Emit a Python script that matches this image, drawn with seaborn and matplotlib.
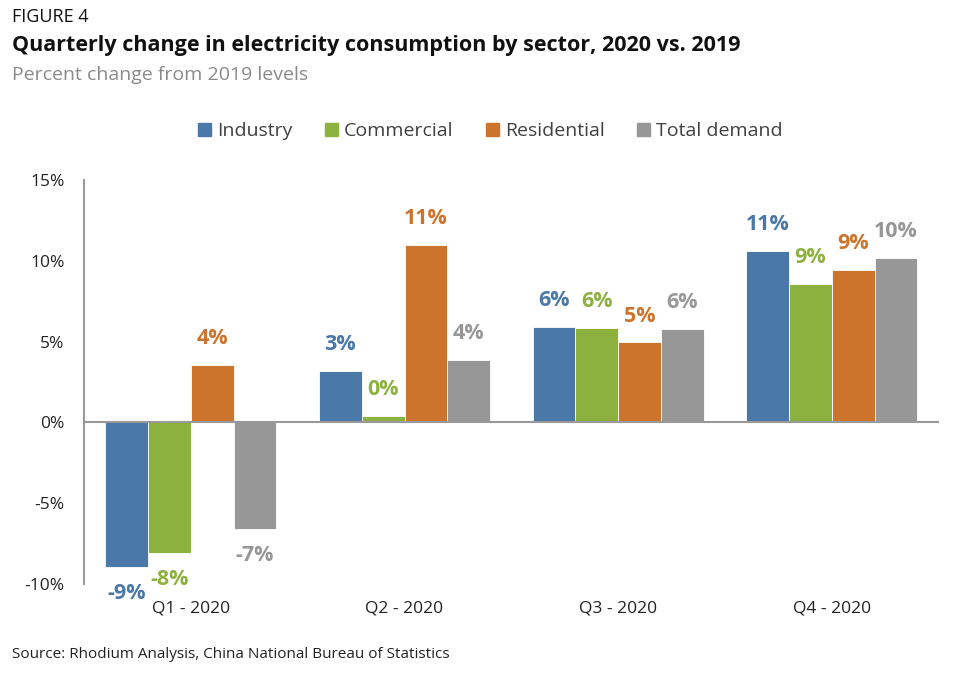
import numpy as np
import pandas as pd
import seaborn as sns
import matplotlib.pyplot as plt

quarters = ['Q1 - 2020', 'Q2 - 2020', 'Q3 - 2020', 'Q4 - 2020']
sectors = ['Industry', 'Commercial', 'Residential', 'Total demand']
industry = [-8.95, 3.2, 5.9, 10.6]
commercial = [-8.1, 0.4, 5.85, 8.55]
residential = [3.55, 11.0, 4.95, 9.45]
total_demand = [-6.6, 3.85, 5.8, 10.2]
colors = ['#4A78A8', '#8DB13E', '#CC742C', '#979797']

df = pd.DataFrame({
    'quarter': quarters * 4,
    'sector': np.repeat(sectors, 4),
    'value': industry + commercial + residential + total_demand,
})

sns.set_theme(style='white')
plt.rcParams['font.family'] = ['Open Sans', 'DejaVu Sans']

fig = plt.figure(figsize=(9.56, 6.8), dpi=100)
ax = fig.add_axes([0.0879, 0.1412, 0.894, 0.5941])

sns.barplot(data=df, x='quarter', y='value', hue='sector', palette=colors,
            width=0.8, saturation=1, edgecolor='white', linewidth=0.6,
            legend=False, ax=ax)

ax.set_ylim(-10, 15)
ax.set_xlim(-0.5, 3.5)
ax.set_yticks(range(-10, 16, 5))
ax.set_yticklabels([f'{t}%' for t in range(-10, 16, 5)], fontsize=12.5, color='#222222')
ax.tick_params(axis='y', length=0, pad=14)
ax.tick_params(axis='x', length=0, pad=12, labelsize=12.5, labelcolor='#222222')
ax.set_xlabel('')
ax.set_ylabel('')
for s in ['top', 'right', 'bottom']:
    ax.spines[s].set_visible(False)
ax.spines['left'].set_color('#999999')
ax.spines['left'].set_linewidth(1.5)
ax.axhline(0, color='#999999', lw=1.5, zorder=3)

# data labels
for cont, col in zip(ax.containers, colors):
    for bar in cont:
        h = bar.get_height()
        x = bar.get_x() + bar.get_width() / 2
        off = 19 if h >= 0 else -19
        ax.annotate(f'{round(h):.0f}%', (x, h), xytext=(0, off),
                    textcoords='offset points', ha='center', va='center',
                    fontsize=15.5, fontweight='bold', color=col)

# legend
handles = [plt.Rectangle((0, 0), 1, 1, color=c) for c in colors]
fig.legend(handles, sectors, loc='center', bbox_to_anchor=(0.513, 0.807),
           ncol=4, frameon=False, fontsize=14, handlelength=0.65,
           handleheight=0.65, handletextpad=0.3, columnspacing=1.7,
           labelcolor='#404040')

fig.text(0.0125, 0.975, 'FIGURE 4', fontsize=13, color='#111111', va='center')
fig.text(0.0125, 0.933, 'Quarterly change in electricity consumption by sector, 2020 vs. 2019',
         fontsize=15.5, fontweight='bold', color='#111111', va='center')
fig.text(0.0125, 0.889, 'Percent change from 2019 levels', fontsize=14,
         color='#8a8a8a', va='center')
fig.text(0.0125, 0.038, 'Source: Rhodium Analysis, China National Bureau of Statistics',
         fontsize=11, color='#222222', va='center')

fig.savefig('out.png', dpi=100)
